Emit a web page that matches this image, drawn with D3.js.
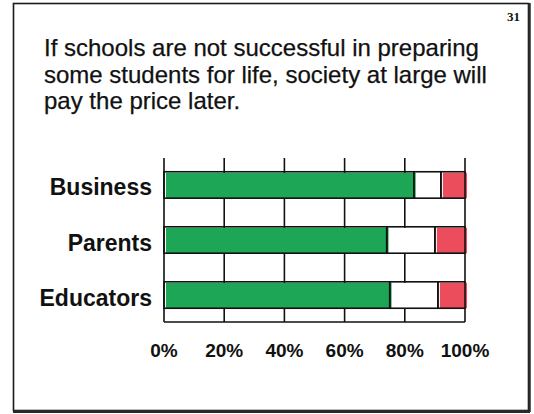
<!DOCTYPE html>
<html>
<head>
<meta charset="utf-8">
<script src="https://cdn.jsdelivr.net/npm/d3@7"></script>
<style>
  html, body { margin: 0; padding: 0; background: #fff; }
  svg { display: block; }
</style>
</head>
<body>
<svg id="chart" width="534" height="414"></svg>
<script>
// Survey responses, percent of each group
const groups = ["Business", "Parents", "Educators"];
const agree = [83, 74, 75];
const neutral = [9, 16, 16];
const disagree = [8, 10, 9];
const tickValues = [0, 20, 40, 60, 80, 100];
const tickLabels = ["0%", "20%", "40%", "60%", "80%", "100%"];
const titleLines = [
  "If schools are not successful in preparing",
  "some students for life, society at large will",
  "pay the price later."
];
const pageNumber = "31";

const svg = d3.select("#chart");
const font = "'Liberation Sans', Arial, Helvetica, sans-serif";

// slide frame
svg.append("rect")
  .attr("x", 13.5).attr("y", 3.5).attr("width", 515).attr("height", 407)
  .attr("fill", "#fff").attr("stroke", "#1a1a1a").attr("stroke-width", 1.6);
svg.append("line").attr("x1", 13).attr("x2", 530).attr("y1", 411.5).attr("y2", 411.5)
  .attr("stroke", "#2a2a2a").attr("stroke-width", 3);
svg.append("line").attr("x1", 529.5).attr("x2", 529.5).attr("y1", 3).attr("y2", 412)
  .attr("stroke", "#2a2a2a").attr("stroke-width", 2.5);

svg.append("text")
  .attr("x", 520).attr("y", 21)
  .attr("text-anchor", "end")
  .attr("font-family", "'Liberation Serif', 'Times New Roman', serif")
  .attr("font-weight", "bold").attr("font-size", 13)
  .attr("fill", "#111")
  .text(pageNumber);

// title
svg.append("g").selectAll("text").data(titleLines).join("text")
  .attr("x", 44)
  .attr("y", (d, i) => 56 + i * 26.5)
  .attr("font-family", font).attr("font-size", 24)
  .attr("fill", "#111")
  .attr("stroke", "#111").attr("stroke-width", 0.25)
  .text(d => d);

// scales
const x = d3.scaleLinear().domain([0, 100]).range([164, 465]);
const y = d3.scaleBand().domain(groups).range([158, 322])
  .paddingInner(0.52).paddingOuter(0.25);

// vertical gridlines
svg.append("g").selectAll("line").data(tickValues).join("line")
  .attr("x1", d => x(d)).attr("x2", d => x(d))
  .attr("y1", 158).attr("y2", 322)
  .attr("stroke", "#111").attr("stroke-width", 1.6);
svg.append("line")
  .attr("x1", x(0)).attr("x2", x(100))
  .attr("y1", 322).attr("y2", 322)
  .attr("stroke", "#111").attr("stroke-width", 1.6);

// stacked segments
const rows = groups.map((g, i) => {
  const parts = [
    { key: "agree", v: agree[i], fill: "#1ca655" },
    { key: "neutral", v: neutral[i], fill: "#ffffff" },
    { key: "disagree", v: disagree[i], fill: "#ec4d5c" }
  ];
  let acc = 0;
  parts.forEach(p => { p.x0 = acc; acc += p.v; p.x1 = acc; p.group = g; });
  return parts;
}).flat();

const bars = svg.append("g");
// color fills sit a touch right of their outlines
bars.selectAll("rect.fill").data(rows).join("rect")
  .attr("class", "fill")
  .attr("x", d => x(d.x0) + 2)
  .attr("y", d => y(d.group) + 1)
  .attr("width", d => x(d.x1) - x(d.x0))
  .attr("height", y.bandwidth() - 1)
  .attr("fill", d => d.fill);
bars.selectAll("rect.edge").data(rows).join("rect")
  .attr("class", "edge")
  .attr("x", d => x(d.x0))
  .attr("y", d => y(d.group))
  .attr("width", d => x(d.x1) - x(d.x0))
  .attr("height", y.bandwidth())
  .attr("fill", "none")
  .attr("stroke", "#111").attr("stroke-width", 1.6);

// category labels
svg.append("g").selectAll("text").data(groups).join("text")
  .attr("x", 152)
  .attr("y", d => y(d) + y.bandwidth() / 2 + 10.5)
  .attr("text-anchor", "end")
  .attr("font-family", font).attr("font-weight", "bold").attr("font-size", 23)
  .attr("fill", "#111")
  .text(d => d);

// percent axis labels
svg.append("g").selectAll("text").data(tickValues).join("text")
  .attr("x", d => x(d))
  .attr("y", 357)
  .attr("text-anchor", "middle")
  .attr("font-family", font).attr("font-weight", "bold").attr("font-size", 19)
  .attr("fill", "#111")
  .text((d, i) => tickLabels[i]);
</script>
</body>
</html>
